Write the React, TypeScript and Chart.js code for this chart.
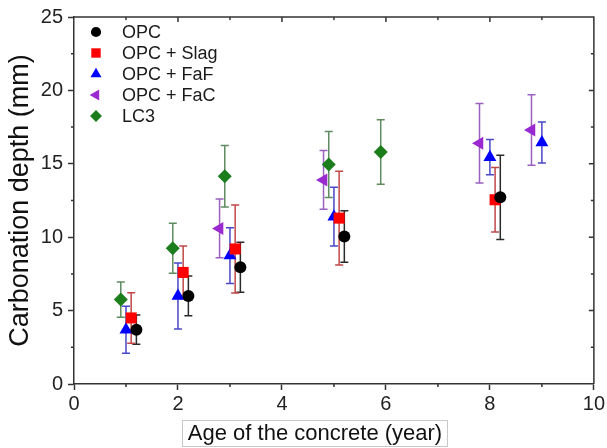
import React, { useEffect, useRef } from 'react';
import { Chart, registerables } from 'chart.js';

Chart.register(...registerables);

const seriesNames = ['OPC', 'OPC + Slag', 'OPC + FaF', 'OPC + FaC', 'LC3'];

const opcAge = [1.2, 2.2, 3.2, 5.2, 8.2];
const opcDepth = [3.7, 6.0, 7.95, 10.05, 12.72];
const opcErr = [1.0, 1.35, 1.7, 1.75, 2.87];

const slagAge = [1.1, 2.1, 3.1, 5.1, 8.1];
const slagDepth = [4.5, 7.6, 9.2, 11.3, 12.55];
const slagErr = [1.72, 1.8, 3.0, 3.2, 2.2];

const fafAge = [1.0, 2.0, 3.0, 5.0, 8.0, 9.0];
const fafDepth = [3.7, 6.0, 8.75, 11.4, 15.45, 16.45];
const fafErr = [1.6, 2.25, 1.9, 2.0, 1.2, 1.4];

const facAge = [2.8, 4.8, 7.8, 8.8];
const facDepth = [10.6, 13.9, 16.4, 17.3];
const facErr = [2.0, 2.0, 2.7, 2.4];

const lc3Age = [0.9, 1.9, 2.9, 4.9, 5.9];
const lc3Depth = [5.75, 9.25, 14.15, 14.95, 15.8];
const lc3Err = [1.2, 1.7, 2.1, 2.25, 2.2];

const xTicks = [0, 2, 4, 6, 8, 10];
const yTicks = [0, 5, 10, 15, 20, 25];
const xMinorTicks = [1, 3, 5, 7, 9];
const yMinorTicks = [2.5, 7.5, 12.5, 17.5, 22.5];

const xTitle = 'Age of the concrete (year)';
const yTitle = 'Carbonation depth (mm)';

const FONT = '"Liberation Sans", Arial, sans-serif';
const AXIS_COLOR = '#333333';

const seriesStyle = [
  { color: '#000000', bar: '#2a2a2a', pointStyle: 'circle', radius: 6, rotation: 0 },
  { color: '#ff0000', bar: '#c04848', pointStyle: 'rect', radius: 7.8, rotation: 0 },
  { color: '#0000ff', bar: '#4848c8', pointStyle: 'triangle', radius: 7.5, rotation: 0 },
  { color: '#9a2ad0', bar: '#9a60c0', pointStyle: 'triangle', radius: 7.5, rotation: -90 },
  { color: '#1b7d1b', bar: '#5f8c5f', pointStyle: 'rectRot', radius: 7, rotation: 0 },
];

const seriesData = [
  { age: opcAge, depth: opcDepth, err: opcErr },
  { age: slagAge, depth: slagDepth, err: slagErr },
  { age: fafAge, depth: fafDepth, err: fafErr },
  { age: facAge, depth: facDepth, err: facErr },
  { age: lc3Age, depth: lc3Depth, err: lc3Err },
];

function drawMarker(ctx: CanvasRenderingContext2D, style: string, x: number, y: number, r: number, rotationDeg: number) {
  const rad = (rotationDeg * Math.PI) / 180;
  ctx.beginPath();
  if (style === 'circle') {
    ctx.arc(x, y, r, 0, Math.PI * 2);
  } else if (style === 'rect') {
    const s = Math.SQRT1_2 * r;
    ctx.rect(x - s, y - s, 2 * s, 2 * s);
  } else if (style === 'triangle') {
    let a = rad;
    ctx.moveTo(x + Math.sin(a) * r, y - Math.cos(a) * r);
    a += (2 * Math.PI) / 3;
    ctx.lineTo(x + Math.sin(a) * r, y - Math.cos(a) * r);
    a += (2 * Math.PI) / 3;
    ctx.lineTo(x + Math.sin(a) * r, y - Math.cos(a) * r);
    ctx.closePath();
  } else if (style === 'rectRot') {
    ctx.moveTo(x, y - r);
    ctx.lineTo(x + r, y);
    ctx.lineTo(x, y + r);
    ctx.lineTo(x - r, y);
    ctx.closePath();
  }
  ctx.fill();
}

const errorBarPlugin = {
  id: 'errorBars',
  beforeDatasetsDraw(chart: any) {
    const ctx = chart.ctx as CanvasRenderingContext2D;
    const xs = chart.scales.x;
    const ys = chart.scales.y;
    ctx.save();
    seriesData.forEach((s, i) => {
      ctx.strokeStyle = seriesStyle[i].bar;
      ctx.lineWidth = 1.5;
      s.age.forEach((a, j) => {
        const px = xs.getPixelForValue(a);
        const top = ys.getPixelForValue(s.depth[j] + s.err[j]);
        const bot = ys.getPixelForValue(s.depth[j] - s.err[j]);
        ctx.beginPath();
        ctx.moveTo(px, top);
        ctx.lineTo(px, bot);
        ctx.moveTo(px - 4, top);
        ctx.lineTo(px + 4, top);
        ctx.moveTo(px - 4, bot);
        ctx.lineTo(px + 4, bot);
        ctx.stroke();
      });
    });
    ctx.restore();
  },
};

const decorPlugin = {
  id: 'decor',
  afterDraw(chart: any) {
    const ctx = chart.ctx as CanvasRenderingContext2D;
    const { left, right, top, bottom } = chart.chartArea;
    const xs = chart.scales.x;
    const ys = chart.scales.y;
    ctx.save();
    ctx.strokeStyle = AXIS_COLOR;
    ctx.lineWidth = 1.5;
    // frame top & right
    ctx.beginPath();
    ctx.moveTo(left, top);
    ctx.lineTo(right, top);
    ctx.lineTo(right, bottom);
    ctx.stroke();
    // ticks
    ctx.beginPath();
    for (let v = 1; v <= 9; v++) {
      const px = xs.getPixelForValue(v);
      const len = v % 2 === 0 ? 5 : 3;
      ctx.moveTo(px, top);
      ctx.lineTo(px, top + len);
    }
    xMinorTicks.forEach((v) => {
      const px = xs.getPixelForValue(v);
      ctx.moveTo(px, bottom);
      ctx.lineTo(px, bottom + 3);
    });
    for (let k = 1; k < 10; k++) {
      const v = k * 2.5;
      const py = ys.getPixelForValue(v);
      const len = k % 2 === 0 ? 5 : 3;
      ctx.moveTo(right, py);
      ctx.lineTo(right - len, py);
    }
    yMinorTicks.forEach((v) => {
      const py = ys.getPixelForValue(v);
      ctx.moveTo(left, py);
      ctx.lineTo(left - 3, py);
    });
    ctx.stroke();

    // legend
    const rowsY = [32, 53, 74, 95, 116];
    ctx.font = `18px ${FONT}`;
    ctx.textAlign = 'left';
    ctx.textBaseline = 'middle';
    seriesNames.forEach((name, i) => {
      const st = seriesStyle[i];
      ctx.fillStyle = st.color;
      drawMarker(ctx, st.pointStyle, 96, rowsY[i], st.radius * 0.85, st.rotation);
      ctx.fillStyle = '#1a1a1a';
      ctx.fillText(name, 122, rowsY[i] + 1);
    });

    // x title with box
    ctx.font = `22px ${FONT}`;
    ctx.textAlign = 'center';
    ctx.textBaseline = 'middle';
    ctx.fillStyle = '#111111';
    ctx.fillText(xTitle, 315, 434);
    ctx.strokeStyle = '#c8c8c8';
    ctx.lineWidth = 1;
    ctx.strokeRect(182.5, 420.5, 265, 26);

    // y title
    ctx.translate(21, (top + bottom) / 2);
    ctx.rotate(-Math.PI / 2);
    ctx.font = `27px ${FONT}`;
    ctx.fillStyle = '#111111';
    ctx.fillText(yTitle, 0, 0);
    ctx.restore();
  },
};

export default function App() {
  const ref = useRef<HTMLCanvasElement | null>(null);
  useEffect(() => {
    document.body.style.margin = '0';
    if (!ref.current) return;
    const datasets = seriesData.map((s, i) => ({
      label: seriesNames[i],
      data: s.age.map((a, j) => ({ x: a, y: s.depth[j] })),
      pointStyle: seriesStyle[i].pointStyle,
      pointRadius: seriesStyle[i].radius,
      pointRotation: seriesStyle[i].rotation,
      backgroundColor: seriesStyle[i].color,
      borderColor: seriesStyle[i].color,
      borderWidth: 0,
      showLine: false,
    }));
    const chart = new Chart(ref.current, {
      type: 'scatter',
      data: { datasets } as any,
      options: {
        animation: false,
        responsive: false,
        maintainAspectRatio: false,
        layout: { padding: { top: 15, right: 12, left: 0, bottom: 0 } },
        plugins: { legend: { display: false }, tooltip: { enabled: false } },
        scales: {
          x: {
            type: 'linear',
            min: 0,
            max: 10,
            afterBuildTicks: (s: any) => {
              s.ticks = xTicks.map((v) => ({ value: v }));
            },
            afterFit: (s: any) => {
              s.height = 64;
            },
            grid: { drawOnChartArea: false, tickLength: 6, tickColor: AXIS_COLOR, tickWidth: 1.5 },
            border: { color: AXIS_COLOR, width: 1.5 },
            ticks: { font: { family: FONT, size: 20 }, color: '#222222', padding: 2, maxRotation: 0 },
          },
          y: {
            type: 'linear',
            min: 0,
            max: 25,
            afterBuildTicks: (s: any) => {
              s.ticks = yTicks.map((v) => ({ value: v }));
            },
            afterFit: (s: any) => {
              s.width = 74;
            },
            grid: { drawOnChartArea: false, tickLength: 6, tickColor: AXIS_COLOR, tickWidth: 1.5 },
            border: { color: AXIS_COLOR, width: 1.5 },
            ticks: { font: { family: FONT, size: 20 }, color: '#222222', padding: 5 },
          },
        },
      } as any,
      plugins: [errorBarPlugin, decorPlugin],
    });
    return () => chart.destroy();
  }, []);
  return (
    <div style={{ position: 'absolute', left: 0, top: 0, width: 607, height: 448, background: '#fff' }}>
      <canvas ref={ref} width={607} height={448} style={{ display: 'block' }} />
    </div>
  );
}
